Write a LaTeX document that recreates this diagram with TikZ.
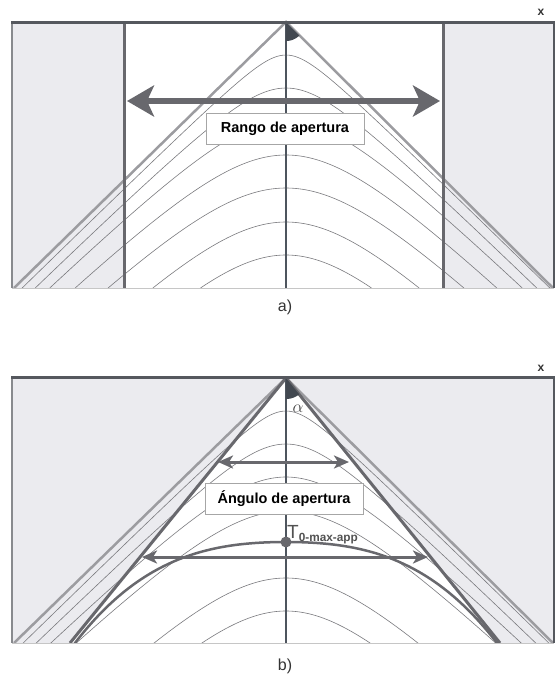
\documentclass[tikz,border=0pt]{standalone}
\usepackage{fontspec}
\setmainfont{Liberation Sans}
\usetikzlibrary{arrows.meta}
\definecolor{edge}{HTML}{55585E}
\definecolor{greyfill}{HTML}{EBEBEF}
\definecolor{cone}{HTML}{9C9CA0}
\definecolor{ink}{HTML}{68686D}
\definecolor{axis}{HTML}{4E555E}
\definecolor{iso}{HTML}{7A7A7E}

\begin{document}
\begin{tikzpicture}[x=1pt,y=-1pt,
  isoline/.style={draw=iso,line width=0.6pt},
  bar/.style={draw=ink,line width=3pt},
  lab/.style={draw=gray!70,fill=white,inner sep=0pt,minimum width=158pt,minimum height=31pt,
    font=\bfseries\fontsize{14.5}{16}\selectfont},
  arrbig/.style={<->,>={Stealth[length=27pt,width=31pt,inset=7pt]},line width=6pt,ink},
  arrsmall/.style={<->,>={Stealth[length=15pt,width=13pt,inset=4pt]},line width=3pt,ink},
  capt/.style={font=\fontsize{16}{18}\selectfont,text=black!80}]
  \useasboundingbox (0,0) rectangle (559,681);
  % a) rango de apertura
  \fill[greyfill] (12,22) rectangle (124,288);
  \fill[greyfill] (443,22) rectangle (554,288);
  \begin{scope}
    \clip (12,22) rectangle (554,288);
    \foreach \d/\b in {33/27,66/51,99/77,133/94,166/102,200/96,233/90}{
      \pgfmathsetmacro\w{10*sqrt(((266-\d+\b)/10)^2-(\b/10)^2)/0.98}
      \draw[isoline] plot[domain=-\w:\w,samples=90,smooth]
        (\x+286,{22+\d-\b+10*sqrt((\b/10)^2+(0.098*\x)*(0.098*\x))});
    }
  \end{scope}
  \coordinate (apexA) at (286,22);
  \coordinate (blA) at (14,288);
  \coordinate (brA) at (553,288);
  \draw[cone,line width=2.5pt] (blA) -- (apexA) -- (brA);
  \draw[bar] (124,22) -- (124,288);
  \draw[bar] (443,22) -- (443,288);
  \draw[axis,line width=2pt] (apexA) -- (286,288);
  \fill[axis!85!black] (apexA) -- plot[domain=0:45,samples=12] ({286+19*sin(\x)},{22+19*cos(\x)}) -- cycle;
  \draw[gray!45,line width=1pt] (12,288) -- (554,288);
  \draw[edge!70,line width=1.2pt] (12,22) -- (12,288);
  \draw[edge,line width=2pt] (554,22) -- (554,288);
  \draw[edge,line width=3pt] (11,22) -- (555,22);
  \coordinate (rL) at (127,101);
  \coordinate (rR) at (440,101);
  \draw[arrbig] (rL) -- (rR);
  \node[lab] (rango) at (285,128.5) {Rango de apertura};
  \node[font=\bfseries\fontsize{12}{12}\selectfont,text=black!80] (xa) at (541,12) {x};
  \node[capt] (capA) at (285,307) {a)};
  % b) angulo de apertura
  \fill[greyfill] (12,377) rectangle (554,643);
  \coordinate (apexB) at (286,378);
  \coordinate (blB) at (14,643);
  \coordinate (brB) at (553,643);
  \coordinate (ilB) at (70,643);
  \coordinate (irB) at (500,643);
  \fill[white] (ilB) -- (apexB) -- (irB) -- cycle;
  \begin{scope}
    \clip (12,377) rectangle (554,643);
    \foreach \d/\b in {33/27,66/51,99/77,133/94,200/96,233/90}{
      \pgfmathsetmacro\w{10*sqrt(((266-\d+\b)/10)^2-(\b/10)^2)/0.98}
      \draw[isoline] plot[domain=-\w:\w,samples=90,smooth]
        (\x+286,{378+\d-\b+10*sqrt((\b/10)^2+(0.098*\x)*(0.098*\x))});
    }
    % curva de T
    \draw[ink,line width=2.5pt] plot[domain=-212:212,samples=90,smooth]
      (\x+286,{378+164+101*(0.4*(abs(\x)/211)^2+0.6*(abs(\x)/211)^3.2)});
  \end{scope}
  \draw[cone,line width=2.5pt] (blB) -- (apexB) -- (brB);
  \draw[ink,line width=3pt,line join=round] (ilB) -- (apexB) -- (irB);
  \draw[axis,line width=2pt] (apexB) -- (286,643);
  \fill[axis!85!black] (apexB) -- plot[domain=0:39,samples=12] ({286+21*sin(\x)},{378+21*cos(\x)}) -- cycle;
  \node[font=\fontsize{17}{17}\selectfont,text=black!75] (alpha) at (298,409) {$\alpha$};
  \draw[gray!45,line width=1pt] (12,643) -- (554,643);
  \draw[edge!70,line width=1.2pt] (12,377) -- (12,643);
  \draw[edge,line width=2pt] (554,377) -- (554,643);
  \draw[edge,line width=3pt] (11,377) -- (555,377);
  \coordinate (uL) at (218,462);
  \coordinate (uR) at (349,462);
  \coordinate (lL) at (142,557);
  \coordinate (lR) at (428,557);
  \draw[arrsmall] (uL) -- (uR);
  \draw[arrsmall] (lL) -- (lR);
  \node[lab] (angulo) at (284,498.5) {Ángulo de apertura};
  \node[circle,fill=ink,inner sep=0pt,minimum size=11pt] (T) at (286,542) {};
  \node[anchor=base west,inner sep=0pt,text=black!68] (Tlab) at (287,538)
    {\fontsize{19}{20}\selectfont T\raisebox{-3pt}{\bfseries\fontsize{11.8}{12}\selectfont 0-max-app}};
  \node[font=\bfseries\fontsize{12}{12}\selectfont,text=black!80] (xb) at (541,368) {x};
  \node[capt] (capB) at (285,666) {b)};
\end{tikzpicture}
\end{document}
